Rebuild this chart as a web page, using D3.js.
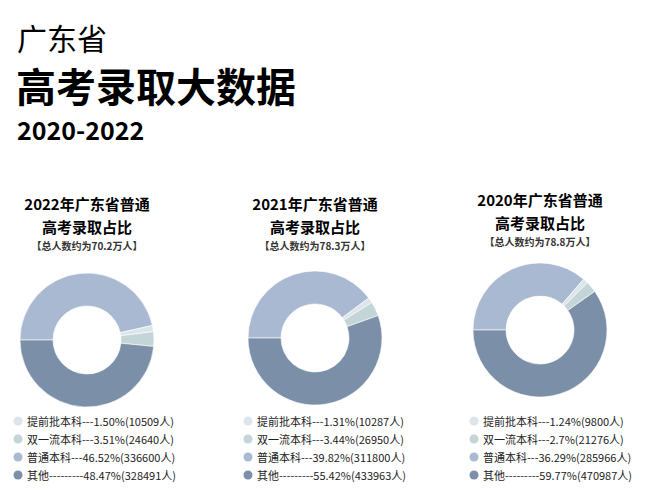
<!DOCTYPE html>
<html><head><meta charset="utf-8">
<script src="https://cdn.jsdelivr.net/npm/d3@7"></script>
<style>body{margin:0;background:#fff}text{font-family:"Noto Sans CJK SC","Noto Sans",sans-serif}</style>
</head><body>
<svg id="c" width="651" height="500"></svg>
<script>
var years = ["2022", "2021", "2020"];
var totals = ["70.2", "78.3", "78.8"];
var categories = ["提前批本科", "双一流本科", "普通本科", "其他"];
var dashes = ["---", "---", "---", "---------"];
var pct2022 = [1.50, 3.51, 46.52, 48.47];
var pct2021 = [1.31, 3.44, 39.82, 55.42];
var pct2020 = [1.24, 2.7, 36.29, 59.77];
var pctLabels = [["1.50%", "3.51%", "46.52%", "48.47%"], ["1.31%", "3.44%", "39.82%", "55.42%"], ["1.24%", "2.7%", "36.29%", "59.77%"]];
var counts = [[10509, 24640, 336600, 328491], [10287, 26950, 311800, 433963], [9800, 21276, 285966, 470987]];
var colors = ["#dde5ec", "#c3d5d6", "#a9b9d2", "#7b8fa8"];

var svg = d3.select("#c");

svg.append("text").attr("x", 17).attr("y", 50).attr("font-size", 30).text("广东省");
svg.append("text").attr("x", 16).attr("y", 102).attr("font-size", 40).attr("font-weight", "bold").text("高考录取大数据");
svg.append("text").attr("x", 17).attr("y", 140).attr("font-size", 25).attr("font-weight", "bold").text("2020-2022");

var allPct = [pct2022, pct2021, pct2020];
var cx = [87, 315, 540];
var cy = [340, 338, 330];
var titleY = [210, 210, 206];
var legX = [14, 244, 470];

// drawing order around the ring: 普通本科, 提前批, 双一流, 其他
var drawOrder = [2, 0, 1, 3];
var this_pct;
var pie = d3.pie().sort(null).value(function(i){ return this_pct[i]; })
  .startAngle(-Math.PI / 2).endAngle(Math.PI * 1.5);
var arc = d3.arc().innerRadius(34).outerRadius(67);

years.forEach(function(y, k){
  var g = svg.append("g");
  g.append("text").attr("x", cx[k]).attr("y", titleY[k]).attr("text-anchor", "middle")
    .attr("font-size", 15).attr("font-weight", "bold").text(y + "年广东省普通");
  g.append("text").attr("x", cx[k]).attr("y", titleY[k] + 23).attr("text-anchor", "middle")
    .attr("font-size", 15).attr("font-weight", "bold").text("高考录取占比");
  g.append("text").attr("x", cx[k]).attr("y", titleY[k] + 40).attr("text-anchor", "middle")
    .attr("font-size", 10).attr("font-weight", "bold").attr("fill", "#333").text("【总人数约为" + totals[k] + "万人】");

  this_pct = allPct[k];
  var arcs = pie(drawOrder);
  g.append("g").attr("transform", "translate(" + cx[k] + "," + cy[k] + ")")
    .selectAll("path").data(arcs).enter().append("path")
    .attr("d", arc).attr("fill", function(d){ return colors[d.data]; })
    .attr("stroke", "#fff").attr("stroke-width", 0.6);

  var leg = g.selectAll(".leg").data(categories).enter().append("g")
    .attr("transform", function(d, i){ return "translate(" + legX[k] + "," + (421 + i * 18) + ")"; });
  leg.append("circle").attr("cx", 4).attr("cy", 0).attr("r", 4.5).attr("fill", function(d, i){ return colors[i]; });
  leg.append("text").attr("x", 13).attr("y", 4.5).attr("font-size", 11).attr("fill", "#222")
    .text(function(d, i){ return d + dashes[i] + pctLabels[k][i] + "(" + counts[k][i] + "人)"; });
});
</script>
</body></html>
